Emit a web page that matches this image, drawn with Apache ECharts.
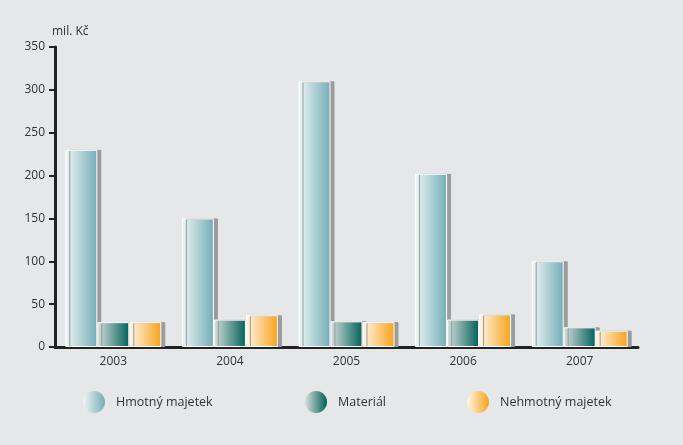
<!DOCTYPE html>
<html><head><meta charset="utf-8">
<script src="https://cdn.jsdelivr.net/npm/echarts@6/dist/echarts.min.js"></script>
<style>html,body{margin:0;padding:0;background:#e6e7e9}#c{width:683px;height:445px}</style>
</head><body><div id="c"></div>
<script>
var categories = ['2003','2004','2005','2006','2007'];
var seriesNames = ['Hmotný majetek','Materiál','Nehmotný majetek'];
var hmotny = [230,150,310,202,100];
var material = [29,32,30,32,23];
var nehmotny = [29,37,29,38,19];
var yTicks = [0,50,100,150,200,250,300,350];
var unitLabel = 'mil. Kč';

function grad(a,b){return new echarts.graphic.LinearGradient(0,0,1,0,[{offset:0,color:a},{offset:1,color:b}]);}
var colors = [grad('#eef6f7','#72adb5'), grad('#d6dfdc','#00605a'), grad('#fff6e8','#f8a21a')];
var datas = [hmotny, material, nehmotny];
var font = 'Open Sans';
var chart = echarts.init(document.getElementById('c'));
var series = datas.map(function(d,i){
  return {name:seriesNames[i], type:'bar', data:d, barWidth:32, barGap:'0%',
    itemStyle:{color:colors[i], borderColor:'#ffffff', borderWidth:1,
      shadowColor:'#9b9b9b', shadowOffsetX:4, shadowOffsetY:0, shadowBlur:0}};
});
var legendPos = [83,305,467];
chart.setOption({
  backgroundColor:'#e6e7e9',
  animation:false,
  grid:{left:55,right:45,top:47,bottom:98},
  legend: seriesNames.map(function(n,i){return {data:[n], left:legendPos[i], top:391, padding:0, icon:'circle', itemWidth:22, itemHeight:22, itemGap:10,
    itemStyle:{borderWidth:0, shadowBlur:0, shadowOffsetX:0, shadowColor:'rgba(0,0,0,0)'},
    textStyle:{fontFamily:font,fontSize:12.5,color:'#333',padding:[0,0,0,6]}};}),
  xAxis:{type:'category', data:categories,
    axisLine:{lineStyle:{color:'#222',width:3}}, axisTick:{show:false},
    axisLabel:{fontFamily:font,fontSize:12,color:'#333',margin:9}},
  yAxis:{type:'value', min:yTicks[0], max:yTicks[yTicks.length-1], interval:50,
    name:unitLabel, nameGap:9, nameTextStyle:{fontFamily:font,fontSize:12,color:'#333',align:'left',padding:[0,0,0,-3]},
    axisLine:{show:true,lineStyle:{color:'#222',width:3}},
    axisTick:{show:true,length:6,lineStyle:{color:'#222',width:2}},
    splitLine:{show:false},
    axisLabel:{fontFamily:font,fontSize:12,color:'#333',margin:10}},
  series:series
});
</script></body></html>
